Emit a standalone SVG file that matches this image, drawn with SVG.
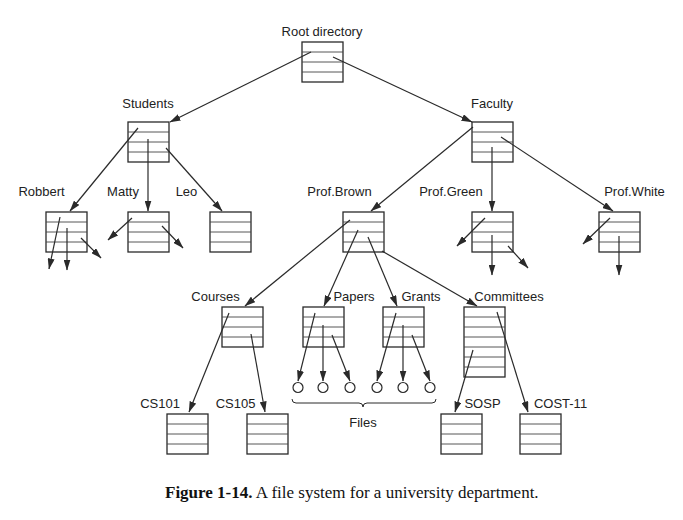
<svg xmlns="http://www.w3.org/2000/svg" xmlns:xlink="http://www.w3.org/1999/xlink" width="683" height="520" viewBox="0 0 683 520">
<style>
.bg{fill:#ffffff}
.box{fill:#ffffff;stroke:#2a2a2a;stroke-width:1.3}
.row{stroke:#444;stroke-width:0.9}
.lbl{font-family:"Liberation Sans",Arial,sans-serif;font-size:13px;fill:#222;text-anchor:middle}
.cap{font-family:"Liberation Serif","Times New Roman",serif;font-size:17px;fill:#111}
.edge{stroke:#2a2a2a;stroke-width:1.2;fill:none;marker-end:url(#ah)}
.file{fill:#fff;stroke:#2a2a2a;stroke-width:1.2}
</style>
<defs>
<marker id="ah" markerUnits="userSpaceOnUse" markerWidth="11" markerHeight="7" refX="10.5" refY="3.5" orient="auto">
<path d="M0,0 L11,3.5 L0,7 z" fill="#2a2a2a"/>
</marker>
<g id="box4">
<rect class="box" x="0" y="0" width="41" height="40"/>
<line class="row" x1="0" y1="10" x2="41" y2="10"/>
<line class="row" x1="0" y1="20" x2="41" y2="20"/>
<line class="row" x1="0" y1="30" x2="41" y2="30"/>
</g>
</defs>
<rect class="bg" x="0" y="0" width="683" height="520"/>

<g id="root"><use xlink:href="#box4" href="#box4" x="302" y="42"/><text class="lbl" x="322" y="36">Root directory</text></g>
<g id="students"><use xlink:href="#box4" href="#box4" x="128" y="122"/><text class="lbl" x="148" y="108">Students</text></g>
<g id="faculty"><use xlink:href="#box4" href="#box4" x="472" y="122"/><text class="lbl" x="492" y="108">Faculty</text></g>
<g id="robbert"><use xlink:href="#box4" href="#box4" x="46" y="212"/><text class="lbl" x="41.5" y="196">Robbert</text></g>
<g id="matty"><use xlink:href="#box4" href="#box4" x="128" y="212"/><text class="lbl" x="123" y="196">Matty</text></g>
<g id="leo"><use xlink:href="#box4" href="#box4" x="210" y="212"/><text class="lbl" x="186.5" y="196">Leo</text></g>
<g id="profbrown"><use xlink:href="#box4" href="#box4" x="343" y="212"/><text class="lbl" x="339.5" y="196">Prof.Brown</text></g>
<g id="profgreen"><use xlink:href="#box4" href="#box4" x="472" y="212"/><text class="lbl" x="451" y="196">Prof.Green</text></g>
<g id="profwhite"><use xlink:href="#box4" href="#box4" x="599" y="212"/><text class="lbl" x="634.5" y="196">Prof.White</text></g>
<g id="courses"><use xlink:href="#box4" href="#box4" x="222" y="307"/><text class="lbl" x="215.5" y="301">Courses</text></g>
<g id="papers"><use xlink:href="#box4" href="#box4" x="303" y="307"/><text class="lbl" x="354" y="301">Papers</text></g>
<g id="grants"><use xlink:href="#box4" href="#box4" x="383" y="307"/><text class="lbl" x="421" y="301">Grants</text></g>
<g id="committees">
<rect class="box" x="464" y="307" width="41" height="70"/>
<line class="row" x1="464" y1="317" x2="505" y2="317"/>
<line class="row" x1="464" y1="327" x2="505" y2="327"/>
<line class="row" x1="464" y1="337" x2="505" y2="337"/>
<line class="row" x1="464" y1="347" x2="505" y2="347"/>
<line class="row" x1="464" y1="357" x2="505" y2="357"/>
<line class="row" x1="464" y1="367" x2="505" y2="367"/>
<text class="lbl" x="509" y="301">Committees</text>
</g>
<g id="cs101"><use xlink:href="#box4" href="#box4" x="167" y="414"/><text class="lbl" x="160" y="408">CS101</text></g>
<g id="cs105"><use xlink:href="#box4" href="#box4" x="247" y="414"/><text class="lbl" x="235.5" y="408">CS105</text></g>
<g id="sosp"><use xlink:href="#box4" href="#box4" x="441" y="414"/><text class="lbl" x="482.5" y="408">SOSP</text></g>
<g id="cost11"><use xlink:href="#box4" href="#box4" x="520" y="414"/><text class="lbl" x="560.5" y="408">COST-11</text></g>

<g id="files">
<circle class="file" cx="298" cy="387.5" r="5"/>
<circle class="file" cx="323" cy="387.5" r="5"/>
<circle class="file" cx="350" cy="387.5" r="5"/>
<circle class="file" cx="377" cy="387.5" r="5"/>
<circle class="file" cx="403" cy="387.5" r="5"/>
<circle class="file" cx="430" cy="387.5" r="5"/>
<path d="M292,399 Q292,403 296,403 L359,403 Q363,403 363,407 Q363,403 367,403 L432,403 Q436,403 436,399" fill="none" stroke="#2a2a2a" stroke-width="1"/>
<text class="lbl" x="363" y="427">Files</text>
</g>

<g id="connectors">
<line class="edge" x1="311" y1="52" x2="170" y2="122"/>
<line class="edge" x1="333" y1="57" x2="472" y2="122"/>
<line class="edge" x1="138" y1="128" x2="70" y2="211"/>
<line class="edge" x1="148" y1="139" x2="148" y2="211"/>
<line class="edge" x1="166" y1="148" x2="222" y2="211"/>
<line class="edge" x1="60" y1="217" x2="49" y2="269"/>
<line class="edge" x1="67" y1="228" x2="67" y2="270"/>
<line class="edge" x1="81" y1="238" x2="101" y2="258"/>
<line class="edge" x1="132" y1="218" x2="108" y2="240"/>
<line class="edge" x1="162" y1="226" x2="183" y2="248"/>
<line class="edge" x1="473" y1="127" x2="371" y2="211"/>
<line class="edge" x1="492" y1="147" x2="492" y2="211"/>
<line class="edge" x1="501" y1="137" x2="613" y2="211"/>
<line class="edge" x1="485" y1="218" x2="457" y2="246"/>
<line class="edge" x1="492" y1="235" x2="492" y2="275"/>
<line class="edge" x1="508" y1="246" x2="528" y2="268"/>
<line class="edge" x1="610" y1="218" x2="583" y2="244"/>
<line class="edge" x1="619" y1="236" x2="619" y2="275"/>
<line class="edge" x1="350" y1="220" x2="245" y2="306"/>
<line class="edge" x1="358" y1="230" x2="324" y2="306"/>
<line class="edge" x1="368" y1="237" x2="397" y2="306"/>
<line class="edge" x1="382" y1="251" x2="477" y2="306"/>
<line class="edge" x1="229" y1="313" x2="189" y2="412"/>
<line class="edge" x1="251" y1="334" x2="265" y2="412"/>
<line class="edge" x1="315" y1="313" x2="298" y2="381"/>
<line class="edge" x1="323" y1="325" x2="323" y2="381"/>
<line class="edge" x1="332" y1="335" x2="350" y2="381"/>
<line class="edge" x1="396" y1="313" x2="377" y2="381"/>
<line class="edge" x1="403" y1="325" x2="403" y2="381"/>
<line class="edge" x1="412" y1="335" x2="430" y2="381"/>
<line class="edge" x1="473" y1="350" x2="455" y2="412"/>
<line class="edge" x1="497" y1="312" x2="528" y2="412"/>
</g>

<text class="cap" x="165" y="498"><tspan font-weight="bold">Figure 1-14.</tspan> A file system for a university department.</text>
</svg>
